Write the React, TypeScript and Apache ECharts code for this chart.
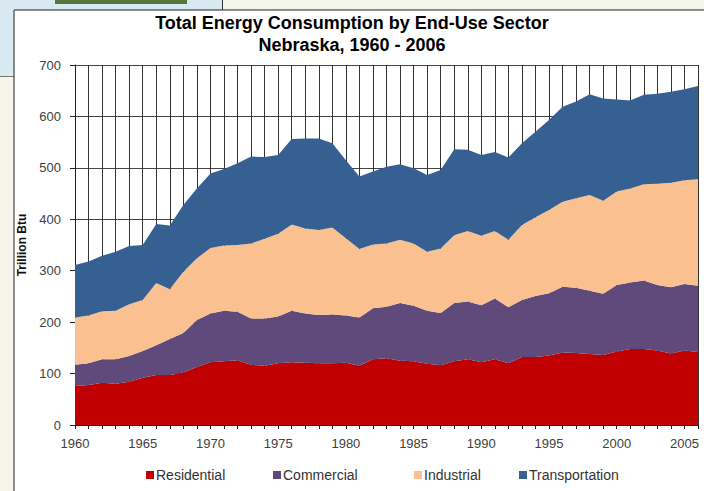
import React, { useEffect, useRef } from "react";
import * as echarts from "echarts";

const years: string[] = [
  "1960","1961","1962","1963","1964","1965","1966","1967","1968","1969",
  "1970","1971","1972","1973","1974","1975","1976","1977","1978","1979",
  "1980","1981","1982","1983","1984","1985","1986","1987","1988","1989",
  "1990","1991","1992","1993","1994","1995","1996","1997","1998","1999",
  "2000","2001","2002","2003","2004","2005","2006",
];

const residential = [
  76, 78, 82, 80, 84, 92, 97, 97, 102, 113,
  122, 124, 126, 117, 115, 120, 122, 121, 120, 120,
  121, 115, 128, 130, 125, 124, 119, 116, 124, 128,
  122, 128, 120, 132, 132, 135, 141, 140, 138, 136,
  143, 148, 148, 145, 139, 145, 142,
];

const commercial = [
  41, 42, 46, 48, 50, 52, 58, 70, 77, 91,
  95, 98, 94, 90, 92, 91, 100, 96, 94, 95,
  92, 94, 99, 100, 112, 108, 103, 102, 113, 112,
  111, 118, 109, 111, 119, 121, 128, 127, 123, 119,
  129, 129, 133, 127, 129, 129, 129,
];

const industrial = [
  92, 93, 93, 94, 101, 99, 121, 97, 119, 120,
  127, 127, 130, 146, 155, 161, 168, 165, 165, 169,
  150, 133, 124, 123, 123, 121, 115, 125, 132, 137,
  135, 131, 131, 146, 153, 162, 165, 174, 186, 181,
  182, 183, 187, 197, 203, 202, 207,
];

const transportation = [
  102, 105, 108, 115, 113, 107, 115, 124, 130, 136,
  145, 149, 159, 169, 159, 153, 166, 175, 178, 164,
  152, 141, 142, 149, 147, 146, 149, 153, 167, 158,
  157, 154, 160, 159, 166, 175, 185, 188, 196, 199,
  179, 171, 174, 175, 177, 177, 181,
];

const seriesNames = ["Residential", "Commercial", "Industrial", "Transportation"];
const seriesColors = ["#c00000", "#604a7b", "#fac090", "#376092"];
const legendLefts = [146, 273, 414, 519];

const FONT = "'Liberation Sans', Arial, sans-serif";

export default function App() {
  const ref = useRef<HTMLDivElement>(null);

  useEffect(() => {
    if (!ref.current) return;
    const chart = echarts.init(ref.current, undefined, { renderer: "svg" });
    const data = [residential, commercial, industrial, transportation];

    chart.setOption({
      animation: false,
      backgroundColor: "#f6f5e9",
      textStyle: { fontFamily: FONT },
      graphic: [
        { type: "rect", z: -10, shape: { x: 0, y: 0, width: 222, height: 76 }, style: { fill: "#d9e9f1" } },
        { type: "rect", z: -9, shape: { x: 55, y: 0, width: 132, height: 4 }, style: { fill: "#58753c" } },
        { type: "line", z: -9, shape: { x1: 222.5, y1: 0, x2: 222.5, y2: 10 }, style: { stroke: "#333", lineWidth: 1 } },
        { type: "line", z: -9, shape: { x1: 0, y1: 76.5, x2: 14, y2: 76.5 }, style: { stroke: "#777", lineWidth: 1 } },
        { type: "rect", z: -8, shape: { x: 14, y: 10, width: 700, height: 500 }, style: { fill: "#ffffff", stroke: "#222", lineWidth: 1 } },
        {
          type: "text", left: "center", top: 12, z: 10,
          style: {
            text: "Total Energy Consumption by End-Use Sector\nNebraska, 1960 - 2006",
            font: `bold 18px ${FONT}`, fill: "#000", textAlign: "center", lineHeight: 22,
          },
        },
      ],
      legend: seriesNames.map((n, i) => ({
        data: [n],
        left: legendLefts[i],
        top: 468,
        icon: "rect",
        itemWidth: 8,
        itemHeight: 8,
        padding: 0,
        textStyle: { fontSize: 14, color: "#333", fontFamily: FONT, padding: [0, 0, 0, -3] },
      })),
      grid: { left: 75, right: 6, top: 65, bottom: 66, containLabel: false },
      xAxis: {
        type: "category",
        data: years,
        boundaryGap: false,
        axisLine: { show: true, lineStyle: { color: "#222", width: 1 } },
        axisTick: { show: true, interval: 0, length: 4, lineStyle: { color: "#222" } },
        axisLabel: { interval: 4, fontSize: 13, color: "#404040", margin: 12, fontFamily: FONT },
        splitLine: { show: true, interval: 0, lineStyle: { color: "#333", width: 1 } },
      },
      yAxis: {
        type: "value",
        min: 0,
        max: 700,
        interval: 100,
        name: "Trillion Btu",
        nameLocation: "middle",
        nameGap: 47,
        nameRotate: 90,
        nameTextStyle: { fontSize: 12, fontWeight: "bold", color: "#111", fontFamily: FONT },
        axisLine: { show: true, lineStyle: { color: "#222", width: 1 } },
        axisTick: { show: true, length: 5, lineStyle: { color: "#222" } },
        axisLabel: { fontSize: 13, color: "#404040", margin: 14, fontFamily: FONT },
        splitLine: { show: true, lineStyle: { color: "#444", width: 1 } },
      },
      series: seriesNames.map((n, i) => ({
        name: n,
        type: "line",
        stack: "total",
        data: data[i],
        symbol: "none",
        showSymbol: false,
        lineStyle: { width: 0 },
        itemStyle: { color: seriesColors[i] },
        areaStyle: { color: seriesColors[i], opacity: 1 },
      })),
    });

    return () => chart.dispose();
  }, []);

  return (
    <div
      ref={ref}
      style={{ position: "absolute", left: 0, top: 0, width: 704, height: 491 }}
    />
  );
}
